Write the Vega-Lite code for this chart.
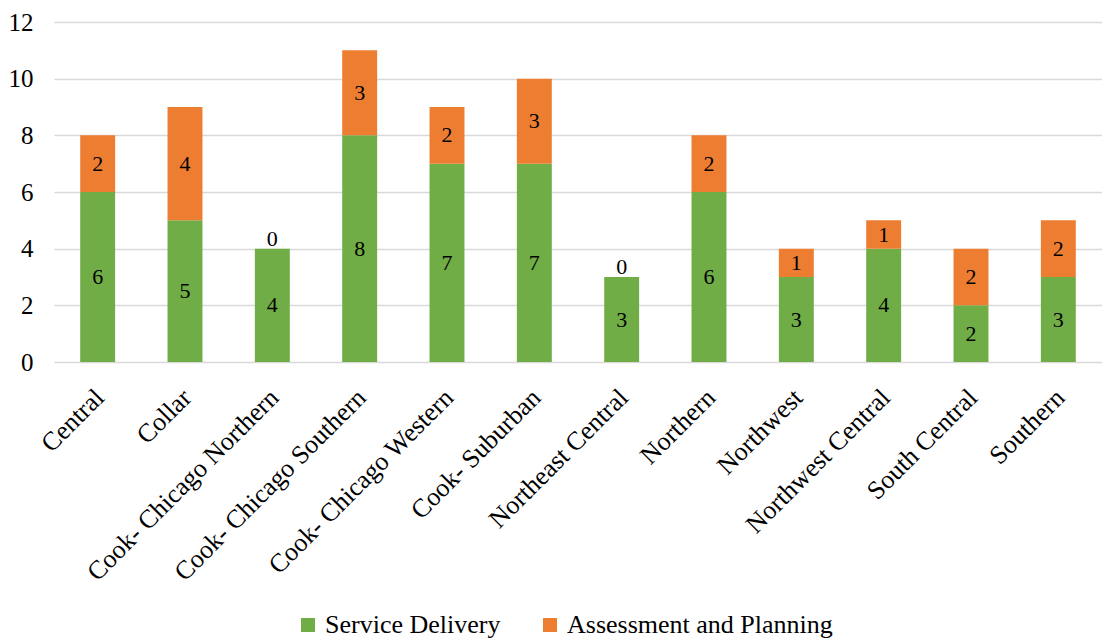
{
  "$schema": "https://vega.github.io/schema/vega-lite/v6.json",
  "autosize": "none",
  "width": 1048,
  "height": 340,
  "padding": {"left": 54, "top": 22, "right": 0, "bottom": 276},
  "background": "white",
  "config": {"font": "Liberation Serif", "view": {"stroke": null}},
  "data": {"values": [
    {"region": "Central", "type": "Service Delivery", "value": 6, "ord": 1},
    {"region": "Central", "type": "Assessment and Planning", "value": 2, "ord": 2},
    {"region": "Collar", "type": "Service Delivery", "value": 5, "ord": 1},
    {"region": "Collar", "type": "Assessment and Planning", "value": 4, "ord": 2},
    {"region": "Cook- Chicago Northern", "type": "Service Delivery", "value": 4, "ord": 1},
    {"region": "Cook- Chicago Northern", "type": "Assessment and Planning", "value": 0, "ord": 2},
    {"region": "Cook- Chicago Southern", "type": "Service Delivery", "value": 8, "ord": 1},
    {"region": "Cook- Chicago Southern", "type": "Assessment and Planning", "value": 3, "ord": 2},
    {"region": "Cook- Chicago Western", "type": "Service Delivery", "value": 7, "ord": 1},
    {"region": "Cook- Chicago Western", "type": "Assessment and Planning", "value": 2, "ord": 2},
    {"region": "Cook- Suburban", "type": "Service Delivery", "value": 7, "ord": 1},
    {"region": "Cook- Suburban", "type": "Assessment and Planning", "value": 3, "ord": 2},
    {"region": "Northeast Central", "type": "Service Delivery", "value": 3, "ord": 1},
    {"region": "Northeast Central", "type": "Assessment and Planning", "value": 0, "ord": 2},
    {"region": "Northern", "type": "Service Delivery", "value": 6, "ord": 1},
    {"region": "Northern", "type": "Assessment and Planning", "value": 2, "ord": 2},
    {"region": "Northwest", "type": "Service Delivery", "value": 3, "ord": 1},
    {"region": "Northwest", "type": "Assessment and Planning", "value": 1, "ord": 2},
    {"region": "Northwest Central", "type": "Service Delivery", "value": 4, "ord": 1},
    {"region": "Northwest Central", "type": "Assessment and Planning", "value": 1, "ord": 2},
    {"region": "South Central", "type": "Service Delivery", "value": 2, "ord": 1},
    {"region": "South Central", "type": "Assessment and Planning", "value": 2, "ord": 2},
    {"region": "Southern", "type": "Service Delivery", "value": 3, "ord": 1},
    {"region": "Southern", "type": "Assessment and Planning", "value": 2, "ord": 2}
  ]},
  "transform": [
    {"stack": "value", "groupby": ["region"], "sort": [{"field": "ord"}], "as": ["v0", "v1"]}
  ],
  "encoding": {
    "x": {"field": "region", "type": "nominal", "sort": null,
      "scale": {"paddingInner": 0.6, "paddingOuter": 0.3},
      "axis": {"title": null, "labelAngle": -45, "labelFontSize": 26, "labelColor": "#000", "ticks": false, "domain": false, "labelPadding": 22, "labelOffset": -7, "labelLimit": 400}}
  },
  "layer": [
    {"mark": {"type": "bar"},
     "encoding": {
       "y": {"field": "v1", "type": "quantitative",
         "scale": {"domain": [0, 12]},
         "axis": {"title": null, "values": [0,2,4,6,8,10,12], "labelFontSize": 25, "labelColor": "#000", "ticks": false, "domain": false, "gridColor": "#D9D9D9", "gridWidth": 1.5, "labelPadding": 21}},
       "y2": {"field": "v0"},
       "color": {"field": "type", "type": "nominal",
         "scale": {"domain": ["Service Delivery", "Assessment and Planning"], "range": ["#70AD47", "#ED7D31"]},
         "legend": {"title": null, "orient": "none", "direction": "horizontal", "legendX": 241, "legendY": 590, "symbolType": "square", "symbolSize": 196, "labelFontSize": 26, "labelColor": "#000", "labelLimit": 400, "labelOffset": 4, "columnPadding": 36, "symbolStrokeWidth": 0}}
     }},
    {"transform": [{"filter": "datum.value > 0"}],
     "mark": {"type": "text", "fontSize": 22, "color": "#000"},
     "encoding": {
       "y": {"field": "value", "type": "quantitative", "stack": "zero", "bandPosition": 0.5},
       "order": {"field": "ord", "type": "quantitative"},
       "text": {"field": "value", "type": "quantitative"}
     }},
    {"transform": [{"filter": "datum.value == 0"}],
     "mark": {"type": "text", "fontSize": 22, "color": "#000", "baseline": "bottom", "dy": 2},
     "encoding": {
       "y": {"field": "v1", "type": "quantitative"},
       "text": {"field": "value", "type": "quantitative"}
     }}
  ]
}
